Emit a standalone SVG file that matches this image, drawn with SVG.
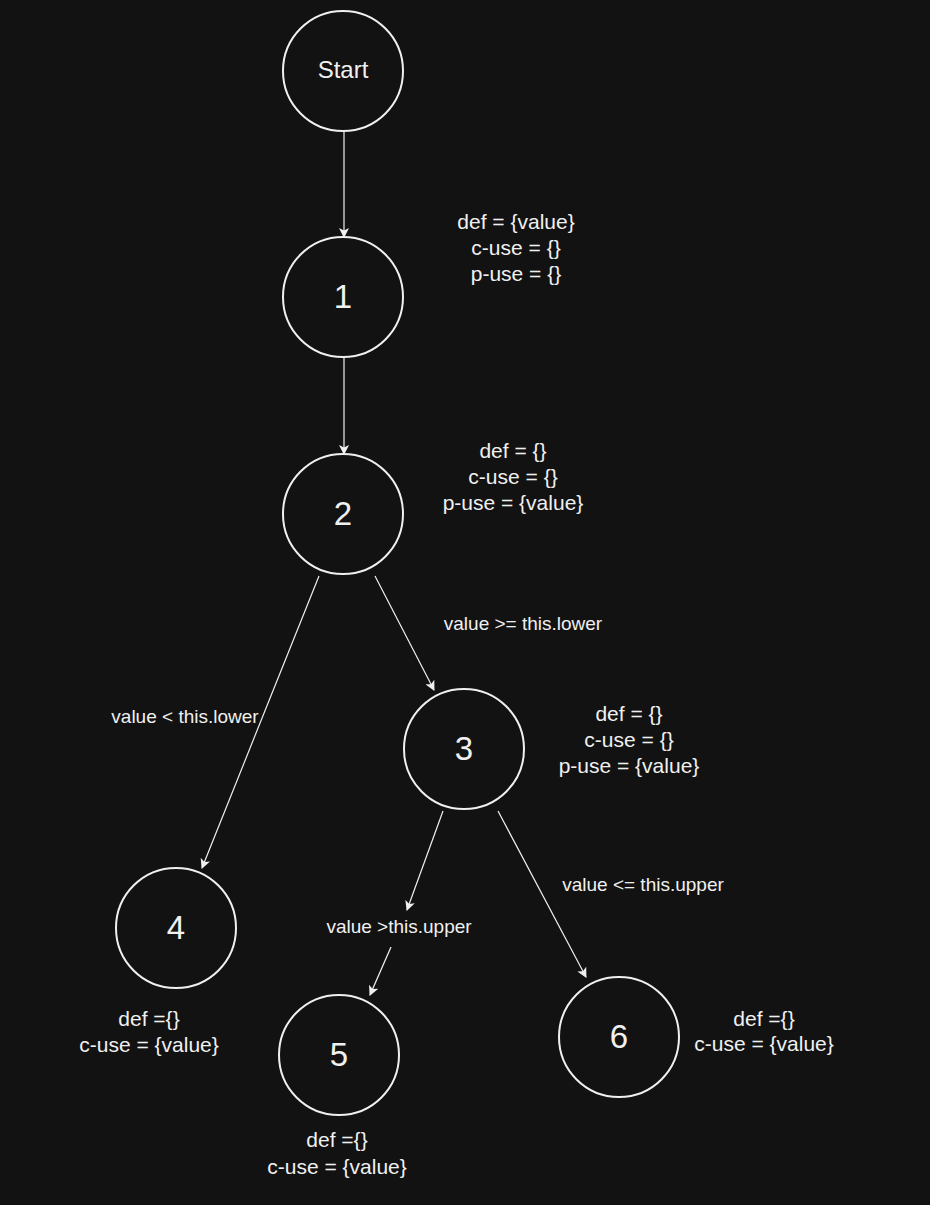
<svg xmlns="http://www.w3.org/2000/svg" width="930" height="1205" viewBox="0 0 930 1205">
<defs>
<marker id="arr" viewBox="0 0 10 10" refX="9" refY="5" markerWidth="10" markerHeight="10" markerUnits="userSpaceOnUse" orient="auto">
<path d="M0,0 L10,5 L0,10 L2.5,5 Z" fill="#f0f0f0"/>
</marker>
<style>
.n{fill:#121212;stroke:#f0f0f0;stroke-width:2}
.t{font-family:"Liberation Sans",Arial,sans-serif;fill:#f0f0f0;text-anchor:middle}
.big{font-size:33px}
.ann{font-size:21px}
.lbl{font-size:19px}
.e{stroke:#f0f0f0;stroke-width:1.2;fill:none;marker-end:url(#arr)}
</style>
</defs>
<rect width="930" height="1205" fill="#121212"/>
<g id="connectors">
<line class="e" x1="344" y1="131" x2="344" y2="237"/>
<line class="e" x1="344" y1="357" x2="344" y2="454"/>
<line class="e" x1="319" y1="576" x2="202" y2="868"/>
<line class="e" x1="375" y1="576" x2="434" y2="690"/>
<line class="e" x1="443" y1="811" x2="407" y2="910"/>
<line class="e" x1="391" y1="947" x2="370" y2="995"/>
<line class="e" x1="498" y1="811" x2="586" y2="977"/>
<text class="t lbl" x="185" y="723">value &lt; this.lower</text>
<text class="t lbl" x="523" y="630">value &gt;= this.lower</text>
<text class="t lbl" x="399" y="933">value &gt;this.upper</text>
<text class="t lbl" x="643" y="891">value &lt;= this.upper</text>
</g>
<g id="start"><circle class="n" cx="343" cy="71" r="60"/><text class="t" x="343" y="78" font-size="24">Start</text></g>
<g id="n1"><circle class="n" cx="343" cy="297" r="60"/><text class="t big" x="343" y="308">1</text></g>
<g id="n2"><circle class="n" cx="343" cy="514" r="60"/><text class="t big" x="343" y="525">2</text></g>
<g id="n3"><circle class="n" cx="464" cy="749" r="60"/><text class="t big" x="464" y="760">3</text></g>
<g id="n4"><circle class="n" cx="176" cy="928" r="60"/><text class="t big" x="176" y="939">4</text></g>
<g id="n5"><circle class="n" cx="339" cy="1055" r="60"/><text class="t big" x="339" y="1066">5</text></g>
<g id="n6"><circle class="n" cx="619" cy="1037" r="60"/><text class="t big" x="619" y="1048">6</text></g>
<g id="a1"><text class="t ann" x="516" y="229">def = {value}</text><text class="t ann" x="516" y="255">c-use = {}</text><text class="t ann" x="516" y="281">p-use = {}</text></g>
<g id="a2"><text class="t ann" x="513" y="458">def = {}</text><text class="t ann" x="513" y="484">c-use = {}</text><text class="t ann" x="513" y="510">p-use = {value}</text></g>
<g id="a3"><text class="t ann" x="629" y="721">def = {}</text><text class="t ann" x="629" y="747">c-use = {}</text><text class="t ann" x="629" y="773">p-use = {value}</text></g>
<g id="a4"><text class="t ann" x="149" y="1026">def ={}</text><text class="t ann" x="149" y="1052">c-use = {value}</text></g>
<g id="a5"><text class="t ann" x="337" y="1147">def ={}</text><text class="t ann" x="337" y="1174">c-use = {value}</text></g>
<g id="a6"><text class="t ann" x="764" y="1026">def ={}</text><text class="t ann" x="764" y="1051">c-use = {value}</text></g>
</svg>
